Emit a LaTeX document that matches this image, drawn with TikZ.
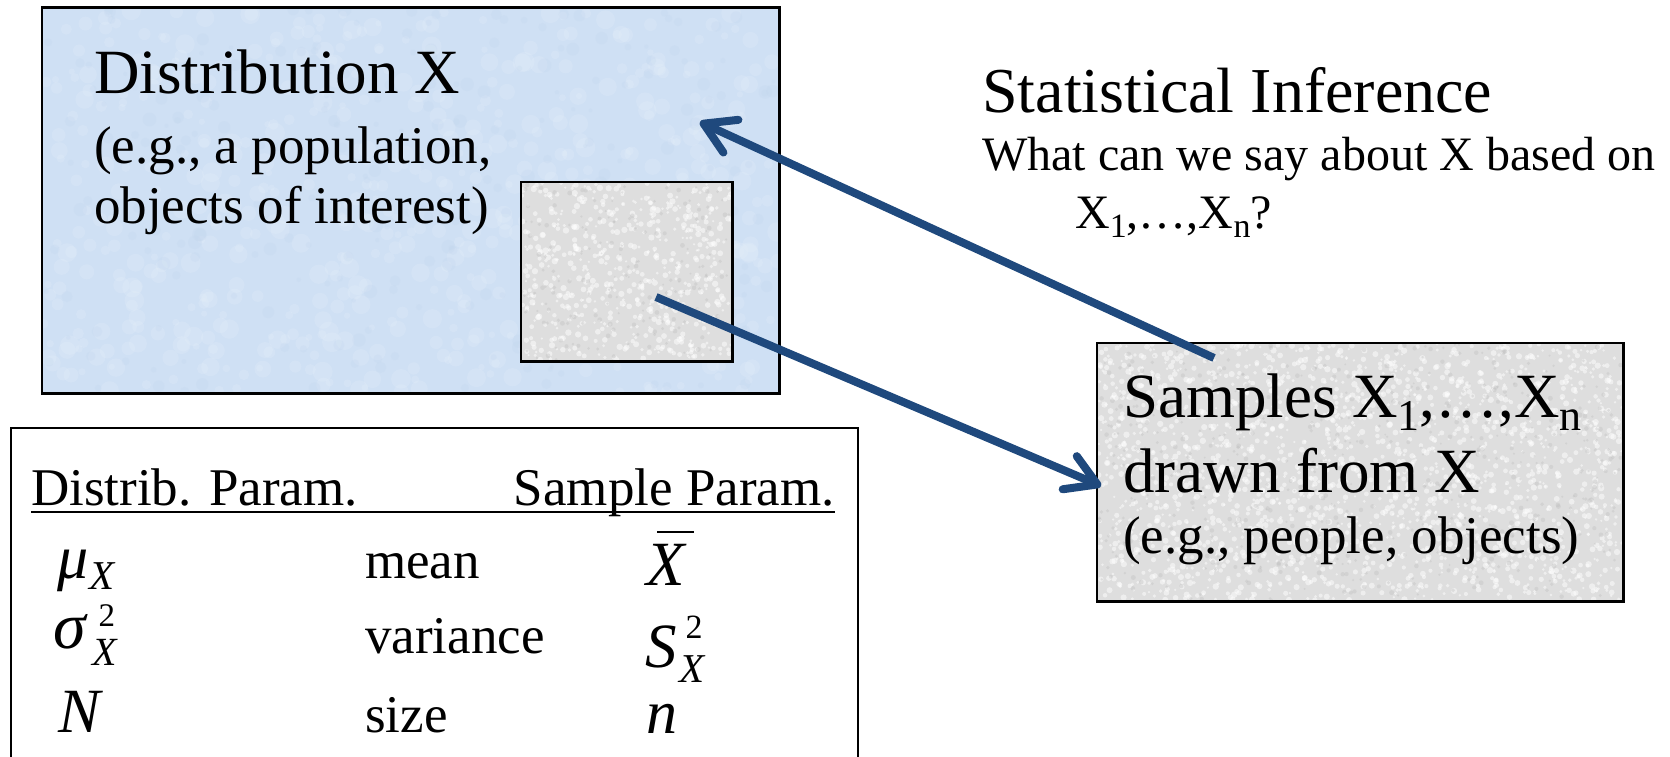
\documentclass[tikz,border=0pt]{standalone}
\usepackage{fontspec}
\setmainfont{Liberation Serif}
\usetikzlibrary{arrows.meta}
\definecolor{boxblue}{RGB}{207,224,244}
\definecolor{blueblot}{RGB}{226,237,249}
\definecolor{bluedark}{RGB}{192,212,236}
\definecolor{boxgray}{RGB}{222,222,222}
\definecolor{speckgray}{RGB}{188,188,188}
\definecolor{arrowblue}{RGB}{31,73,125}
\newcommand{\fs}[1]{\fontsize{#1}{#1}\selectfont}
\newcommand{\sbs}[3]{\raisebox{-#2pt}{\fs{#1}#3}}
\begin{document}
\begin{tikzpicture}[x=1pt,y=-1pt,
  txt/.style={inner sep=0pt, anchor=base west},
  boxframe/.style={line width=2.5pt, inner sep=0pt},
  infarrow/.style={draw=arrowblue, line width=8pt,
    -{Straight Barb[length=30pt,width=36pt,line cap=round,line join=round]}}
]
\useasboundingbox (0,0) rectangle (1670,757);
\pgfmathsetseed{7}
% boxes (fill)
\node[boxframe, fill=boxblue, minimum width=735pt, minimum height=383pt] (dist) at (410.5,200.5) {};
\begin{scope}
  \clip (dist.south west) rectangle (dist.north east);
  \foreach \i in {1,...,600}{
    \fill[blueblot, opacity=0.3] ({43+735*rnd},{9+383*rnd}) circle[radius={3pt+7pt*rnd}];
  }
  \foreach \i in {1,...,250}{
    \fill[bluedark, opacity=0.22] ({43+735*rnd},{9+383*rnd}) circle[radius={2pt+5pt*rnd}];
  }
\end{scope}
\draw[boxframe] (dist.south west) rectangle (dist.north east);
\node[boxframe, fill=boxgray, minimum width=209pt, minimum height=177pt] (inner) at (626.5,271.5) {};
\node[boxframe, fill=boxgray, minimum width=524pt, minimum height=256pt] (samp) at (1360,472) {};
\begin{scope}
  \clip (inner.south west) rectangle (inner.north east);
  \foreach \i in {1,...,600}{
    \fill[white, opacity=0.5] ({522+209*rnd},{183+177*rnd}) circle[radius={1.2pt+2pt*rnd}];
  }
  \foreach \i in {1,...,180}{
    \fill[speckgray, opacity=0.35] ({522+209*rnd},{183+177*rnd}) circle[radius={1pt+1.5pt*rnd}];
  }
\end{scope}
\begin{scope}
  \clip (samp.south west) rectangle (samp.north east);
  \foreach \i in {1,...,2100}{
    \fill[white, opacity=0.5] ({1098+524*rnd},{344+256*rnd}) circle[radius={1.2pt+2pt*rnd}];
  }
  \foreach \i in {1,...,600}{
    \fill[speckgray, opacity=0.35] ({1098+524*rnd},{344+256*rnd}) circle[radius={1pt+1.5pt*rnd}];
  }
\end{scope}
\draw[boxframe] (inner.south west) rectangle (inner.north east);
\draw[boxframe] (samp.south west) rectangle (samp.north east);
\node[draw=black, fill=white, line width=2pt, inner sep=0pt, minimum width=847pt, minimum height=362pt] (tab) at (434.5,609) {};
% distribution text
\node[txt, font=\fs{63}] (distT) at (94,94) {Distribution X};
\node[txt, font=\fs{53}] (distE1) at (94,163) {(e.g., a population,};
\node[txt, font=\fs{53}] (distE2) at (94,223) {objects of interest)};
% inference text
\node[txt, font=\fs{64}] (infT) at (982,113) {Statistical Inference};
\node[txt, font=\fs{48}] (infQ) at (982,170) {What can we say about X based on};
\node[txt, font=\fs{48}] (infX) at (1075,228) {X\sbs{34}{9}{1},…,X\sbs{34}{9}{n}?};
% samples text
\node[txt, font=\fs{63}] (sampT) at (1123,417) {Samples X\sbs{44}{13}{1},…,X\sbs{44}{13}{n}};
\node[txt, font=\fs{63}] (sampD) at (1123,492) {drawn from X};
\node[txt, font=\fs{53}] (sampE) at (1123,553) {(e.g., people, objects)};
% table
\node[txt, font=\fs{53}] (hdL) at (31,505) {Distrib. Param.};
\node[txt, font=\fs{53}, anchor=base east] (hdR) at (835,505) {Sample Param.};
\draw[line width=2.5pt] ([yshift=-7pt]hdL.base west) -- ([yshift=-7pt]hdR.base east);
\node[txt, font=\fs{62}\itshape] (mu) at (57,578) {μ\kern1pt\raisebox{-11pt}{\fs{41}X}};
\node[txt, font=\fs{66}\itshape] (sig) at (53,648)
  {σ\kern7pt\rlap{\kern6pt\raisebox{22pt}{\fs{33}\upshape 2}}\raisebox{-17pt}{\fs{40}X}};
\node[txt, font=\fs{63}\itshape] (bigN) at (58,732) {N};
\node[txt, font=\fs{53}] (mean) at (365,578) {mean};
\node[txt, font=\fs{53}] (var) at (365,653) {variance};
\node[txt, font=\fs{53}] (size) at (365,732) {size};
\node[txt, font=\fs{63}\itshape] (xbar) at (646,585) {X};
\draw[line width=2pt] ([shift={(11pt,12pt)}]xbar.north west) -- ([shift={(9pt,12pt)}]xbar.north east);
\node[txt, font=\fs{63}\itshape] (bigS) at (645,667)
  {S\kern3pt\rlap{\kern6pt\raisebox{29pt}{\fs{34}\upshape 2}}\raisebox{-15pt}{\fs{41}X}};
\node[txt, font=\fs{62}\itshape] (smn) at (646,733) {n};
% arrows
\coordinate (a1s) at (1214,358);
\coordinate (a1e) at (700,122);
\coordinate (a2s) at (656,297);
\coordinate (a2e) at (1101,486);
\draw[infarrow] (a1s) -- (a1e);
\draw[infarrow] (a2s) -- (a2e);
\end{tikzpicture}
\end{document}
